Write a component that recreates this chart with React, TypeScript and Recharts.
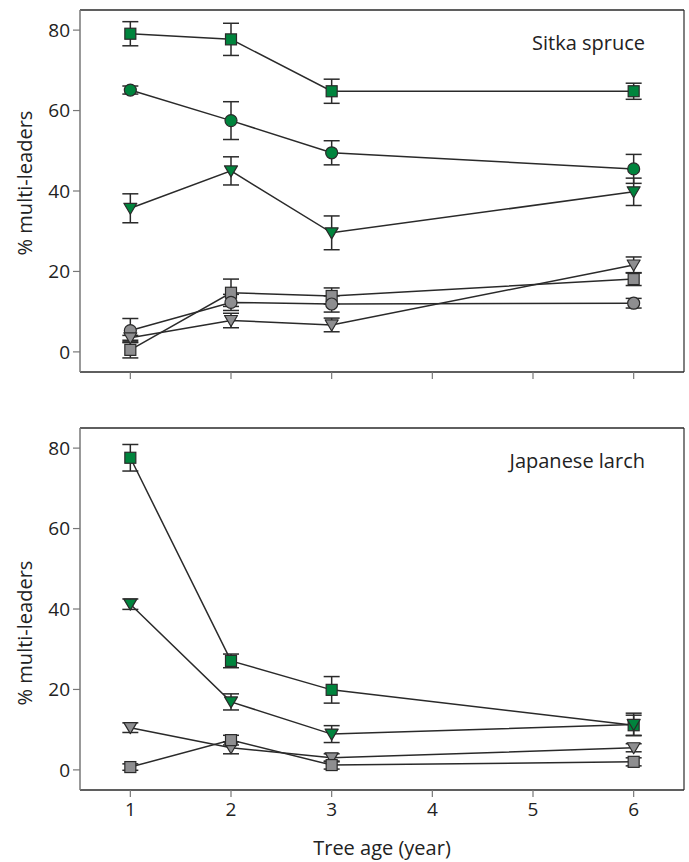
import React from 'react';
import { LineChart, Line, XAxis, YAxis, ErrorBar, ReferenceArea, ReferenceLine } from 'recharts';

const ages = [1, 2, 3, 6];
const xTicks = [1, 2, 3, 4, 5, 6];
const yTicks = [0, 20, 40, 60, 80];

// Sitka spruce
const ssGreenSquare = [79.1, 77.7, 64.8, 64.8];
const ssGreenSquareErr = [3, 4, 3, 2];
const ssGreenCircle = [65.1, 57.5, 49.5, 45.5];
const ssGreenCircleErr = [1, 4.7, 3, 3.6];
const ssGreenTriangle = [35.7, 45.0, 29.6, 39.8];
const ssGreenTriangleErr = [3.6, 3.5, 4.2, 3.4];
const ssGraySquare = [0.5, 14.7, 13.9, 18.1];
const ssGraySquareErr = [2, 3.4, 2, 1.6];
const ssGrayCircle = [5.3, 12.3, 11.9, 12.1];
const ssGrayCircleErr = [3, 2, 2, 1.2];
const ssGrayTriangle = [3.5, 7.8, 6.7, 21.6];
const ssGrayTriangleErr = [0.6, 1.8, 1.7, 2];

// Japanese larch
const jlGreenSquare = [77.6, 27.1, 19.9, 11.1];
const jlGreenSquareErr = [3.3, 1.7, 3.3, 2.5];
const jlGreenTriangle = [41.2, 16.9, 8.9, 11.3];
const jlGreenTriangleErr = [1.3, 2, 2.1, 2.8];
const jlGrayTriangle = [10.5, 5.5, 3.0, 5.5];
const jlGrayTriangleErr = [1.2, 1.5, 1, 1];
const jlGraySquare = [0.7, 7.4, 1.2, 2.0];
const jlGraySquareErr = [0.8, 1.2, 1, 1];

const GREEN = '#00843D';
const GRAY = '#8E8E90';
const STROKE = '#2a2a2a';
const AXIS_GRAY = '#777';
const FONT = '"Open Sans", sans-serif';

type Shape = 'square' | 'circle' | 'triangle';
type Series = { key: string; values: number[]; errors: number[]; shape: Shape; fill: string };

const sitkaSeries: Series[] = [
  { key: 'gsq', values: ssGreenSquare, errors: ssGreenSquareErr, shape: 'square', fill: GREEN },
  { key: 'gci', values: ssGreenCircle, errors: ssGreenCircleErr, shape: 'circle', fill: GREEN },
  { key: 'gtr', values: ssGreenTriangle, errors: ssGreenTriangleErr, shape: 'triangle', fill: GREEN },
  { key: 'ysq', values: ssGraySquare, errors: ssGraySquareErr, shape: 'square', fill: GRAY },
  { key: 'yci', values: ssGrayCircle, errors: ssGrayCircleErr, shape: 'circle', fill: GRAY },
  { key: 'ytr', values: ssGrayTriangle, errors: ssGrayTriangleErr, shape: 'triangle', fill: GRAY },
];

const larchSeries: Series[] = [
  { key: 'gsq', values: jlGreenSquare, errors: jlGreenSquareErr, shape: 'square', fill: GREEN },
  { key: 'gtr', values: jlGreenTriangle, errors: jlGreenTriangleErr, shape: 'triangle', fill: GREEN },
  { key: 'ytr', values: jlGrayTriangle, errors: jlGrayTriangleErr, shape: 'triangle', fill: GRAY },
  { key: 'ysq', values: jlGraySquare, errors: jlGraySquareErr, shape: 'square', fill: GRAY },
];

function buildRows(series: Series[]) {
  return ages.map((x, i) => {
    const row: any = { x };
    series.forEach((s) => {
      row[s.key] = s.values[i];
      row[s.key + 'Err'] = s.errors[i];
    });
    return row;
  });
}

const makeDot = (shape: Shape, fill: string) => (props: any) => {
  const { cx, cy, index } = props;
  const k = `${shape}-${fill}-${index}`;
  if (cx == null || cy == null) return <g key={k} />;
  if (shape === 'square') {
    return <rect key={k} x={cx - 5.5} y={cy - 5.5} width={11} height={11} fill={fill} stroke={STROKE} strokeWidth={1.2} />;
  }
  if (shape === 'circle') {
    return <circle key={k} cx={cx} cy={cy} r={6} fill={fill} stroke={STROKE} strokeWidth={1.2} />;
  }
  return (
    <polygon
      key={k}
      points={`${cx - 6.5},${cy - 5} ${cx + 6.5},${cy - 5} ${cx},${cy + 6}`}
      fill={fill}
      stroke={STROKE}
      strokeWidth={1.2}
      strokeLinejoin="round"
    />
  );
};

type PanelProps = {
  title: string;
  series: Series[];
  height: number;
  marginTop: number;
  xAxisHeight: number;
  showXLabels: boolean;
  yLabelShift: number;
};

function Panel({ title, series, height, marginTop, xAxisHeight, showXLabels, yLabelShift }: PanelProps) {
  const rows = buildRows(series);
  const titles = (p: any) => {
    const vb = p.viewBox || {};
    const x0 = vb.x ?? 80;
    const y0 = vb.y ?? 0;
    const w = vb.width ?? 604;
    const h = vb.height ?? 362;
    const ly = y0 + h / 2 + yLabelShift;
    return (
      <g>
        <text x={x0 + w - 39} y={y0 + 40} textAnchor="end" fontSize={20} fontFamily={FONT} fill="#222">
          {title}
        </text>
        <text
          x={24}
          y={ly}
          textAnchor="middle"
          dominantBaseline="central"
          fontSize={20}
          fontFamily={FONT}
          fill="#222"
          transform={`rotate(-90 24 ${ly})`}
        >
          % multi-leaders
        </text>
        {showXLabels && (
          <text x={x0 + w / 2} y={y0 + h + 65} textAnchor="middle" fontSize={20} fontFamily={FONT} fill="#222">
            Tree age (year)
          </text>
        )}
      </g>
    );
  };
  return (
    <LineChart width={689} height={height} data={rows} margin={{ top: marginTop, right: 5, bottom: 0, left: 0 }}>
      <XAxis
        type="number"
        dataKey="x"
        domain={[0.5, 6.5]}
        ticks={xTicks}
        allowDataOverflow
        height={xAxisHeight}
        axisLine={{ stroke: STROKE, strokeWidth: 1.5 }}
        tickLine={{ stroke: AXIS_GRAY, strokeWidth: 1.2 }}
        tickSize={7}
        tickMargin={6}
        tickFormatter={(v: number) => (showXLabels ? String(v) : '')}
        tick={{ fill: '#222', fontSize: 19, fontFamily: FONT }}
      />
      <YAxis
        type="number"
        domain={[-5, 85]}
        ticks={yTicks}
        allowDataOverflow
        width={80}
        axisLine={{ stroke: AXIS_GRAY, strokeWidth: 1.5 }}
        tickLine={{ stroke: AXIS_GRAY, strokeWidth: 1.2 }}
        tickSize={7}
        tickMargin={3}
        tick={{ fill: '#222', fontSize: 19, fontFamily: FONT }}
      />
      <ReferenceLine y={85} stroke={STROKE} strokeWidth={1.5} ifOverflow="visible" />
      <ReferenceLine x={6.5} stroke={STROKE} strokeWidth={1.2} ifOverflow="visible" />
      <ReferenceArea x1={0.5} x2={6.5} y1={-5} y2={85} fill="none" fillOpacity={0} stroke="none" label={titles} />
      {series.map((s) => (
        <Line
          key={s.key}
          type="linear"
          dataKey={s.key}
          stroke={STROKE}
          strokeWidth={1.5}
          dot={makeDot(s.shape, s.fill)}
          activeDot={false}
          isAnimationActive={false}
        >
          <ErrorBar dataKey={s.key + 'Err'} width={8} stroke={STROKE} strokeWidth={1.5} direction="y" isAnimationActive={false} />
        </Line>
      ))}
    </LineChart>
  );
}

export default function App() {
  return (
    <div style={{ position: 'absolute', left: 0, top: 0, width: 689, height: 862, background: '#fff' }}>
      <Panel title="Sitka spruce" series={sitkaSeries} height={420} marginTop={10} xAxisHeight={48} showXLabels={false} yLabelShift={-8} />
      <Panel title="Japanese larch" series={larchSeries} height={442} marginTop={8} xAxisHeight={72} showXLabels={true} yLabelShift={24} />
    </div>
  );
}
